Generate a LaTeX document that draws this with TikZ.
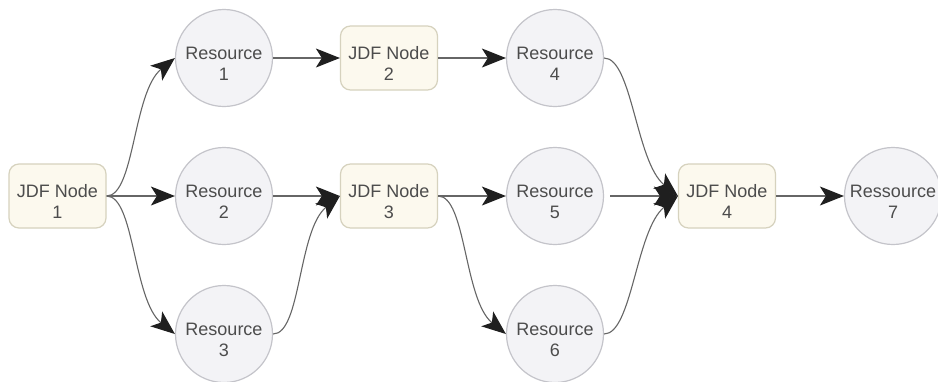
\documentclass[tikz,border=0pt]{standalone}
\usepackage{fontspec}
\setmainfont{Liberation Sans}
\usetikzlibrary{arrows.meta}
\definecolor{boxfill}{HTML}{FCF9EE}
\definecolor{boxline}{HTML}{D6D2BE}
\definecolor{resfill}{HTML}{F3F3F6}
\definecolor{resline}{HTML}{C4C4CA}
\definecolor{txtcol}{HTML}{4C4C4C}
\definecolor{wire}{HTML}{666666}
\begin{document}
\begin{tikzpicture}[x=1pt,y=-1pt,
  lbl/.style={align=center, font=\fontsize{18}{21}\selectfont, text=txtcol, text height=44pt, text depth=0pt, inner sep=0pt},
  jdf/.style={lbl, draw=boxline, fill=boxfill, line width=1.2pt, rounded corners=10pt, minimum width=97pt, minimum height=64pt},
  res/.style={lbl, circle, draw=resline, fill=resfill, line width=1.2pt, minimum size=97pt},
  link/.style={draw=wire, line width=1.1pt, -{Stealth[length=24pt,width=19pt,inset=6pt,color=black!88]}}]
\fill[white] (0,0) rectangle (938,381);
\useasboundingbox (0,0) rectangle (938,381);
\node[jdf] (j1) at (57.5,196) {JDF Node\\1};
\node[res] (r1) at (224,58) {Resource\\1};
\node[res] (r2) at (224,196) {Resource\\2};
\node[res] (r3) at (224,334) {Resource\\3};
\node[jdf] (j2) at (389,58) {JDF Node\\2};
\node[jdf] (j3) at (389,196) {JDF Node\\3};
\node[res] (r4) at (555,58) {Resource\\4};
\node[res] (r5) at (555,196) {Resource\\5};
\node[res] (r6) at (555,334) {Resource\\6};
\node[jdf] (j4) at (727,196) {JDF Node\\4};
\node[res] (r7) at (893,196) {Ressource\\7};
% straight links
\draw[link] (j1) -- (r2);
\draw[link] (r1) -- (j2);
\draw[link] (j2) -- (r4);
\draw[link] (r2) -- (j3);
\draw[link] (j3) -- (r5);
\draw[link, shorten <=6pt] (r5) -- (j4);
\draw[link] (j4) -- (r7);
% curved links
\draw[link] (j1.east) .. controls +(28,0) and +(-42,34) .. (r1.west);
\draw[link] (j1.east) .. controls +(28,0) and +(-42,-34) .. (r3.west);
\draw[link] (r3.east) .. controls +(28,0) and +(-42,34) .. (j3.west);
\draw[link] (j3.east) .. controls +(28,0) and +(-42,-34) .. (r6.west);
\draw[link] (r4.east) .. controls +(28,0) and +(-42,-34) .. (j4.west);
\draw[link] (r6.east) .. controls +(28,0) and +(-42,34) .. (j4.west);
\end{tikzpicture}
\end{document}
